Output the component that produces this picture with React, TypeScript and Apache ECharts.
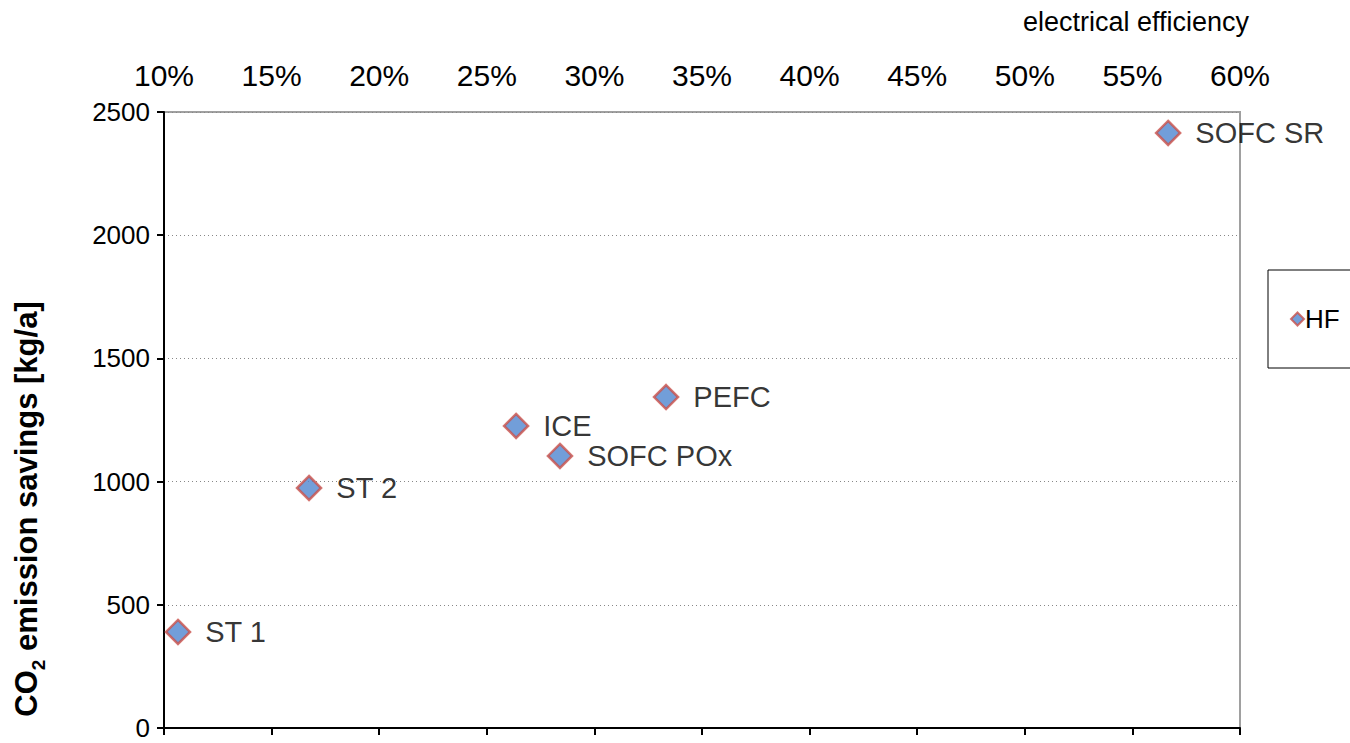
import React, { useEffect, useRef } from "react";
import * as echarts from "echarts";

const names = ["ST 1", "ST 2", "ICE", "SOFC POx", "PEFC", "SOFC SR"];
const efficiency = [10.65, 16.74, 26.36, 28.4, 33.33, 56.66];
const savings = [390, 974, 1226, 1104, 1343, 2415];
const seriesName = "HF";
const xTitle = "electrical efficiency";

const FONT = "'Liberation Sans', Arial, sans-serif";

export default function App() {
  const ref = useRef<HTMLDivElement>(null);
  useEffect(() => {
    if (!ref.current) return;
    const chart = echarts.init(ref.current, undefined, { renderer: "svg" });
    chart.setOption({
      animation: false,
      textStyle: { fontFamily: FONT },
      grid: {
        left: 164,
        right: 110,
        top: 112,
        bottom: 15,
        show: true,
        borderColor: "#a0a0a0",
        borderWidth: 2,
      },
      graphic: [
        {
          type: "text",
          x: 1249,
          y: 22,
          style: {
            text: xTitle,
            fontSize: 27,
            fontFamily: FONT,
            fill: "#000",
            align: "right",
            verticalAlign: "middle",
          },
        },
        {
          type: "text",
          x: 26,
          y: 509,
          rotation: Math.PI / 2,
          style: {
            text: "{a|CO}{b|2}{a| emission savings [kg/a]}",
            align: "center",
            verticalAlign: "middle",
            rich: {
              a: { fontSize: 31, fontWeight: "bold", fill: "#000", fontFamily: FONT, lineHeight: 44, verticalAlign: "middle" },
              b: { fontSize: 19, fontWeight: "bold", fill: "#000", fontFamily: FONT, lineHeight: 44, verticalAlign: "bottom" },
            },
          },
        },
      ],
      legend: {
        show: true,
        left: 1268,
        top: 270,
        orient: "vertical",
        borderColor: "#000",
        borderWidth: 1,
        padding: [36, 40, 36, 22],
        itemWidth: 13,
        itemHeight: 13,
        itemGap: 4,
        data: [{ name: seriesName, icon: "diamond" }],
        textStyle: { fontSize: 26, color: "#000", fontFamily: FONT, padding: [0, 0, 0, -4] },
      },
      xAxis: [
        {
          type: "value",
          position: "top",
          min: 10,
          max: 60,
          interval: 5,
          axisLine: { show: false },
          axisTick: { show: false },
          splitLine: { show: false },
          axisLabel: {
            formatter: (v: number) => v + "%",
            fontSize: 30,
            color: "#000",
            margin: 22,
            fontFamily: FONT,
          },
        },
        {
          type: "value",
          position: "bottom",
          min: 10,
          max: 60,
          interval: 5,
          axisLine: { show: true, onZero: false, lineStyle: { color: "#000", width: 2 } },
          axisTick: { show: true, inside: false, length: 7, lineStyle: { color: "#000", width: 2 } },
          axisLabel: { show: false },
          splitLine: { show: false },
        },
      ],
      yAxis: {
        type: "value",
        min: 0,
        max: 2500,
        interval: 500,
        axisLine: { show: true, lineStyle: { color: "#000", width: 2 } },
        axisTick: { show: true, inside: false, length: 7, lineStyle: { color: "#000", width: 2 } },
        axisLabel: {
          fontSize: 26,
          color: "#000",
          margin: 14,
          fontFamily: FONT,
          formatter: (v: number) => String(v),
        },
        splitLine: {
          show: true,
          lineStyle: { color: "#888", type: [1, 3], width: 1 },
        },
      },
      series: [
        {
          name: seriesName,
          type: "scatter",
          xAxisIndex: 0,
          symbol: "diamond",
          symbolSize: 24,
          itemStyle: { color: "#4f86d0", borderColor: "#c9504a", borderWidth: 2.5 },
          label: {
            show: true,
            position: "right",
            distance: 14,
            formatter: (p: any) => p.data[2],
            fontSize: 29,
            color: "#000",
            fontFamily: FONT,
          },
          data: names.map((n, i) => [efficiency[i], savings[i], n]),
        },
      ],
    });
    return () => chart.dispose();
  }, []);
  return (
    <div
      ref={ref}
      style={{ position: "absolute", left: 0, top: 0, width: 1350, height: 743 }}
    />
  );
}
